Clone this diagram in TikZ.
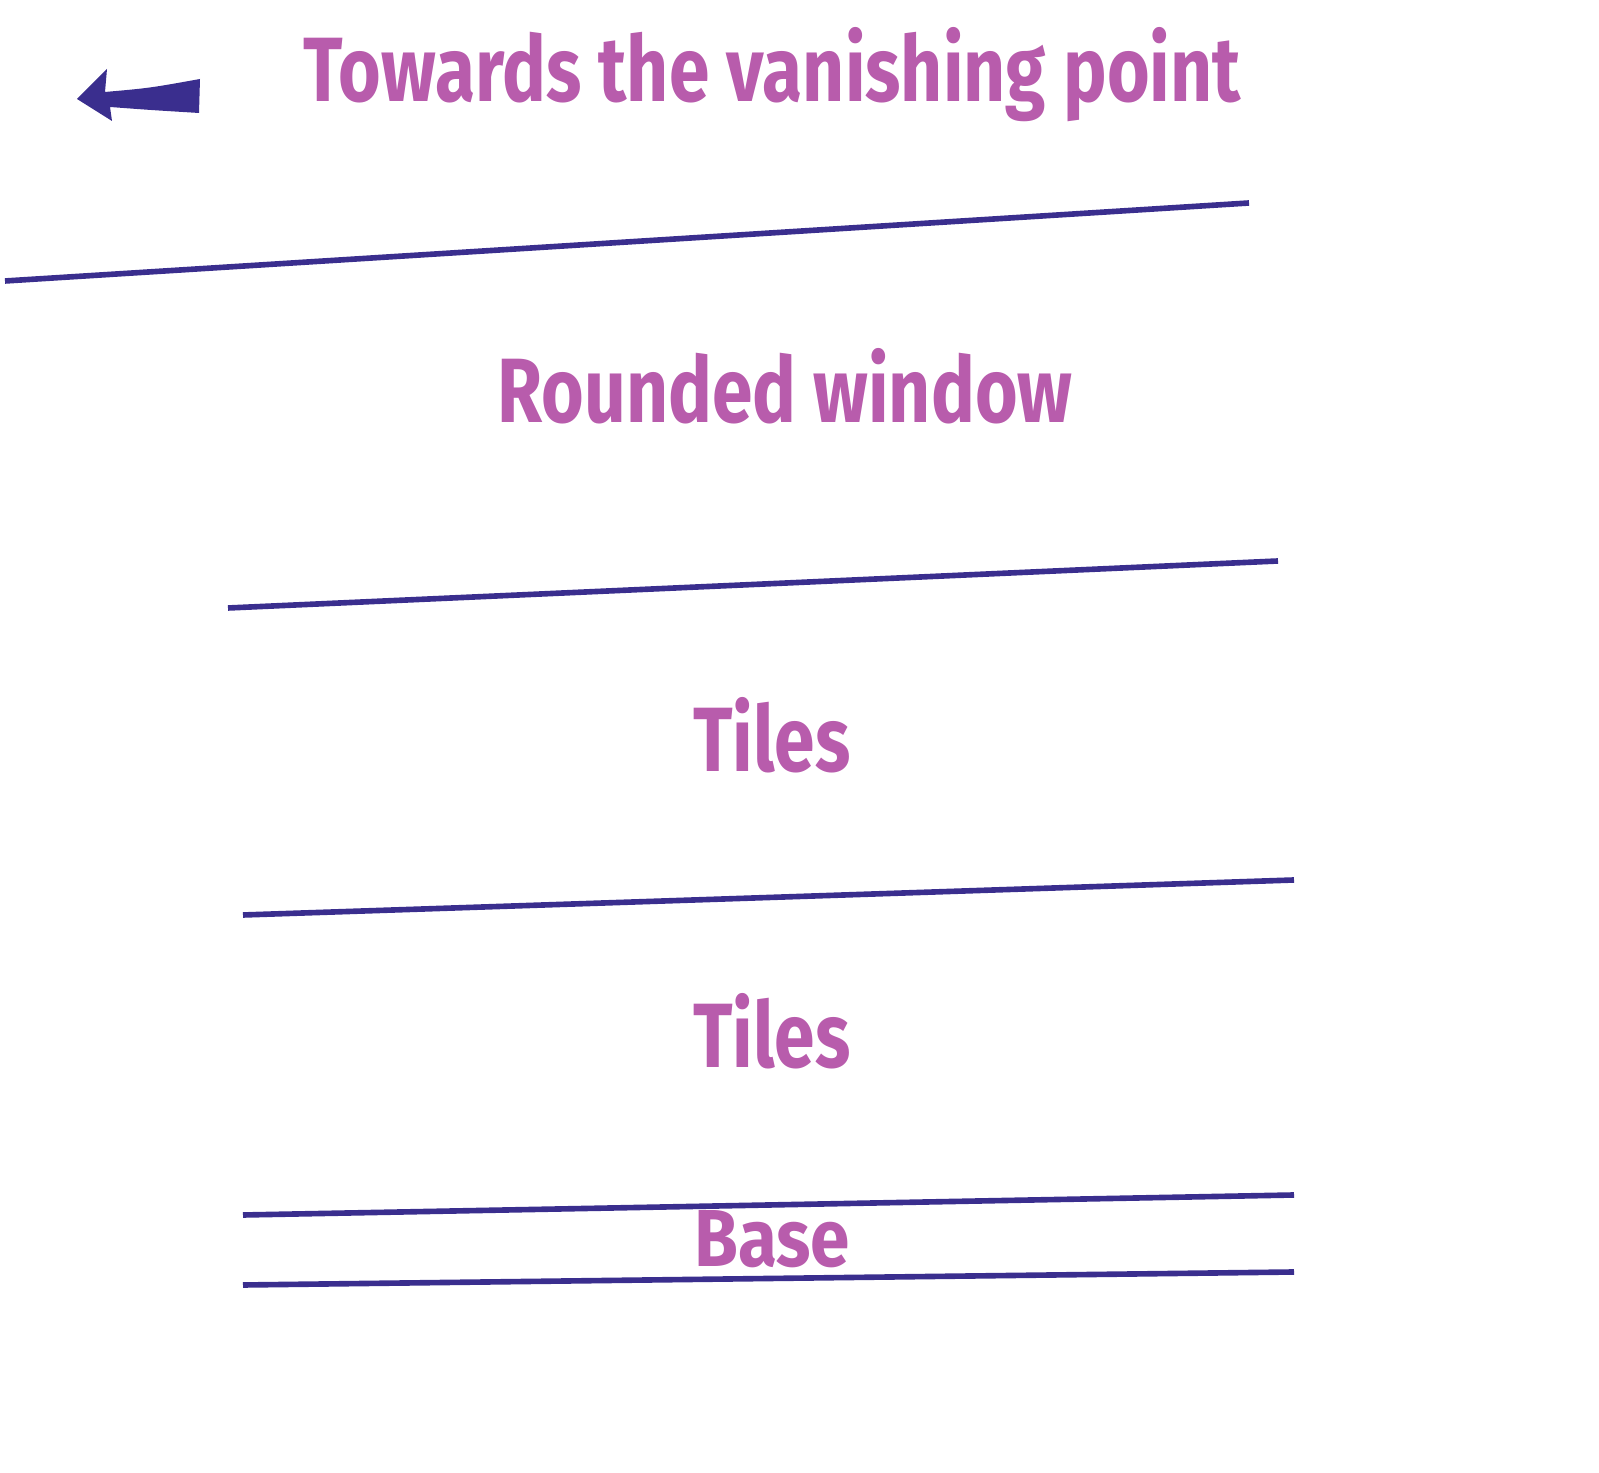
\documentclass[tikz,border=0pt]{standalone}
\usepackage{fontspec}
\setmainfont{Fira Sans}
\usepackage{xcolor}
\definecolor{labelpink}{HTML}{B85CAC}
\definecolor{lineblue}{HTML}{3A2E8E}
\newcommand{\narrow}[1]{\scalebox{0.8}[1]{#1}}

\begin{document}
\begin{tikzpicture}[every node/.style={font=\bfseries\fontsize{26}{30}\selectfont, text=labelpink, anchor=base}]
\useasboundingbox (0,0) rectangle (15.99,14.72);
% Arrow and heading
\fill[lineblue] (0.77,13.73) -- (1.07,14.03) -- (1.05,13.80)
    .. controls (1.5,13.84) .. (2.00,13.93) -- (1.99,13.59)
    .. controls (1.5,13.62) .. (1.10,13.65) -- (1.12,13.51) -- cycle;
\node (head) at (7.72, 13.70) {\narrow{Towards the vanishing point}};
% Section labels
\node (window) at (7.85, 10.49) {\narrow{Rounded window}};
\node (tilesA) at (7.72, 7.00) {\narrow{Tiles}};
\node (tilesB) at (7.72, 4.04) {\narrow{Tiles}};
\node[font=\bfseries\fontsize{23}{27}\selectfont] (base) at (7.72, 2.05) {\scalebox{0.88}[1]{Base}};
% Perspective lines
\foreach \xa/\ya/\xb/\yb in {0.05/11.91/12.49/12.69, 2.28/8.64/12.78/9.11,
    2.43/5.57/12.94/5.92, 2.43/2.57/12.94/2.77, 2.43/1.87/12.94/2.00}
    \draw[lineblue, line width=1.6pt] (\xa,\ya) -- (\xb,\yb);
\end{tikzpicture}
\end{document}
